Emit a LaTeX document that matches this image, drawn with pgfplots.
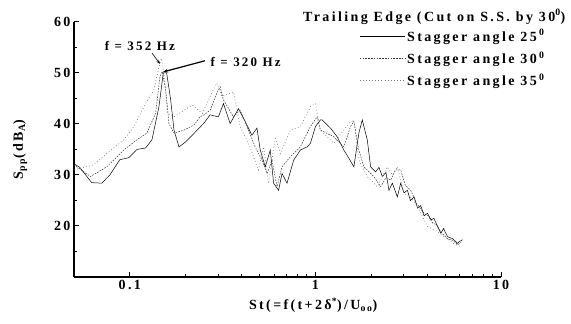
\documentclass[border=0pt]{standalone}
\usepackage{fontspec}
\setmainfont{Liberation Serif}[UprightFont={* Bold}, BoldFont={* Bold}, LetterSpace=17]
\usepackage{pgfplots}
\pgfplotsset{compat=1.18}
\usetikzlibrary{arrows.meta}
\begin{document}
\begin{tikzpicture}
\begin{axis}[
  at={(74pt,47pt)}, anchor=south west,
  scale only axis, width=427pt, height=255pt,
  xmode=log, xmin=0.05, xmax=10, ymin=10, ymax=60,
  axis x line*=bottom, axis y line*=left,
  axis line style={line width=1.3pt, -},
  tick align=inside,
  major tick length=5pt, minor tick length=3pt,
  tick style={line width=1pt, black},
  xtick={0.1,1,10}, xticklabels={0.1,1,10},
  ytick={10,20,30,40,50,60}, yticklabels={,20,30,40,50,60},
  minor ytick={15,25,35,45,55},
  /pgf/number format/assume math mode=true,
  tick label style={font=\fontsize{14}{16}\selectfont},
  xlabel={St(=f(t+2\symbol{"03B4}\textsuperscript{*})/U\textsubscript{oo})},
  ylabel={S\textsubscript{pp}(dB\textsubscript{A})},
  label style={font=\fontsize{14}{16}\selectfont},
  xlabel style={at={(axis description cs:0.56,-0.11)}, anchor=center},
  ylabel style={at={(axis description cs:-0.126,0.5)}, anchor=center},
  clip=false,
  legend style={draw=none, fill=none, at={(rel axis cs:0.668,0.98)}, anchor=north west,
    font=\fontsize{14}{16}\selectfont, row sep=5pt, inner sep=0pt},
  legend cell align=left,
  legend image code/.code={\draw[#1] (0pt,0pt) -- (45pt,0pt);},
]
\addplot[black, line width=0.5pt] coordinates {
(0.05,32.2)(0.0537,31.5)(0.0623,28.5)(0.0706,28.4)(0.078,30)(0.0883,33)(0.0988,33.4)(0.1091,35)(0.1216,35.3)(0.1315,36.9)(0.1435,43.4)(0.1514,50)(0.1579,50)(0.166,44.7)(0.1729,38.8)(0.184,35.5)(0.2,36.5)(0.2129,37.5)(0.2512,40.2)(0.2707,41.8)(0.3,41.4)(0.3194,44)(0.3471,40.1)(0.3849,43)(0.4183,40.5)(0.4548,37.8)(0.484,39.2)(0.5043,34.9)(0.5366,31.6)(0.5712,34.9)(0.5951,28.4)(0.6333,27)(0.6607,30.3)(0.7031,28.4)(0.7632,32.9)(0.8296,34.9)(0.9019,35.5)(0.9397,36.2)(1.0,39.5)(1.064,40.8)(1.087,40.8)(1.205,39.2)(1.31,37.5)(1.422,34.9)(1.514,33.3)(1.611,31.6)(1.714,38.2)(1.788,40.8)(1.903,36.9)(1.983,31.6)(2.11,30.6)(2.2,31.5)(2.294,29.7)(2.4,30.5)(2.49,27)(2.598,28.4)(2.764,25.7)(2.88,28.4)(3.0,26.5)(3.131,27)(3.25,25)(3.4,25.7)(3.55,23.5)(3.695,24)(3.85,22)(4.017,22.5)(4.2,21.2)(4.35,21.5)(4.549,19.9)(4.739,18.6)(4.9,19.5)(5.151,17.9)(5.5,17.5)(5.834,16.6)(6.0,17.0)(6.209,17.3)
};
\addlegendentry{Stagger angle 25\,\textsuperscript{0}}
\addplot[black!80, line width=0.5pt, dash pattern=on 1.6pt off 1.2pt] coordinates {
(0.05,32)(0.0613,29.7)(0.0751,31.6)(0.0928,34.9)(0.1091,36.9)(0.1235,38.2)(0.1377,42.1)(0.1453,49.3)(0.1495,50.3)(0.156,46.7)(0.1625,40.1)(0.1729,38.2)(0.1958,38.8)(0.2218,39.8)(0.2389,41.4)(0.2512,41.8)(0.2707,42.7)(0.2941,46)(0.3065,47.3)(0.3194,44.7)(0.3618,41.4)(0.3931,42.7)(0.4273,39.5)(0.4739,35.5)(0.5151,32.9)(0.5481,30.3)(0.5834,32.9)(0.6209,27.7)(0.6607,31.6)(0.7325,33.6)(0.8296,35.5)(0.9397,39.5)(1.0214,41.4)(1.064,38.8)(1.256,37.5)(1.422,35.5)(1.546,39.5)(1.611,40.5)(1.714,34.9)(1.824,31.6)(2.066,29.7)(2.246,27.7)(2.4,29.5)(2.543,29)(2.7,31)(2.88,31)(3.05,28)(3.262,27)(3.5,24.5)(3.85,22.5)(4.05,22)(4.3,20.5)(4.5,20.3)(4.739,18.8)(5.151,17.5)(5.5,17.2)(5.834,16.3)(6.1,16.8)
};
\addlegendentry{Stagger angle 30\,\textsuperscript{0}}
\addplot[black!55, line width=0.7pt, dash pattern=on 0.7pt off 2.4pt] coordinates {
(0.05,31)(0.0639,32)(0.0751,34.2)(0.0928,36.9)(0.1051,39.5)(0.1216,44)(0.1348,46.7)(0.1435,51.2)(0.1477,52.9)(0.1527,50)(0.1591,42.1)(0.1729,41.4)(0.1958,42.7)(0.2172,43.7)(0.2459,42.1)(0.2598,44)(0.282,46.7)(0.2941,48)(0.3131,45.4)(0.3618,46.3)(0.3931,39.5)(0.4359,36.2)(0.4937,31)(0.5254,35.5)(0.5592,28.4)(0.6078,37.5)(0.6469,34.2)(0.7325,38.8)(0.8296,39.5)(0.9397,43.4)(1.0,44)(1.064,38.8)(1.256,36.2)(1.514,40.1)(1.611,40.8)(1.714,32.9)(1.903,29.7)(2.155,27.7)(2.441,31.6)(2.6,30)(2.764,31.6)(3.001,26.4)(3.3,25.5)(3.546,23.8)(4.017,19.9)(4.5,19)(5.0,17.8)(5.6,16.5)(6.0,16)
};
\addlegendentry{Stagger angle 35\,\textsuperscript{0}}
\node[anchor=east, font=\fontsize{14}{16}\selectfont] at (rel axis cs:1.159,1.02) {Trailing Edge (Cut on S.S. by 30\textsuperscript{0})};
\node[font=\fontsize{13}{15}\selectfont] at (axis cs:0.1132,55.3) {f = 352 Hz};
\draw[-{Stealth[length=4pt]}, line width=0.6pt] (axis cs:0.1317,53.9) -- (axis cs:0.1453,51.8);
\node[anchor=west, font=\fontsize{13}{15}\selectfont] at (axis cs:0.2607,52.2) {f = 320 Hz};
\draw[-{Stealth[length=5pt]}, line width=1.2pt] (axis cs:0.2540,52.4) -- (axis cs:0.1508,50.2);
\end{axis}
\pgfresetboundingbox
\path (0pt,0pt) rectangle (571pt,324pt);
\end{tikzpicture}
\end{document}
